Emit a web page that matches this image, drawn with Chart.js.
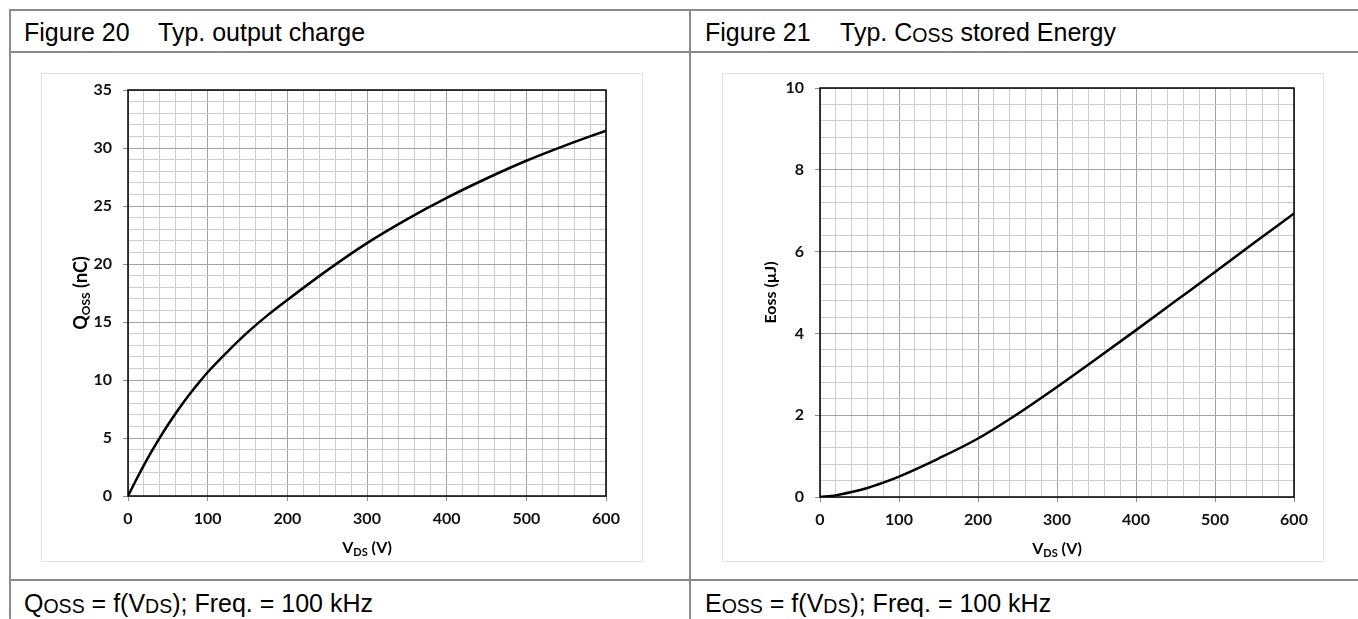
<!DOCTYPE html>
<html>
<head>
<meta charset="utf-8">
<script src="https://cdn.jsdelivr.net/npm/chart.js@4.4.1/dist/chart.umd.min.js"></script>
<style>
  body { margin: 0; width: 1358px; height: 619px; overflow: hidden; position: relative; background: #fff;
         font-family: "Liberation Sans", Arial, sans-serif; color: #000; }
  .rule { position: absolute; background: #8a8a8a; }
  .txt { position: absolute; font-size: 25px; line-height: 1; white-space: nowrap; }
  .sm { font-size: 0.78em; position: relative; top: 1px; }
  .frame { position: absolute; border: 1px solid #e2e2e2; box-sizing: border-box; }
  canvas { position: absolute; display: block; }
</style>
</head>
<body>
  <!-- table rules -->
  <div class="rule" style="left:9px; top:9px; width:1349px; height:2px"></div>
  <div class="rule" style="left:9px; top:51px; width:1349px; height:2px"></div>
  <div class="rule" style="left:9px; top:579px; width:1349px; height:2px"></div>
  <div class="rule" style="left:9px; top:9px; width:2px; height:610px"></div>
  <div class="rule" style="left:689px; top:9px; width:2px; height:610px"></div>

  <div class="txt" style="left:24px; top:20px">Figure 20</div>
  <div class="txt" style="left:158px; top:20px">Typ. output charge</div>
  <div class="txt" style="left:705px; top:20px">Figure 21</div>
  <div class="txt" style="left:840px; top:20px">Typ. C<span class="sm">OSS</span> stored Energy</div>

  <div class="txt" style="left:24px; top:591px">Q<span class="sm">OSS</span> = f(V<span class="sm">DS</span>); Freq. = 100 kHz</div>
  <div class="txt" style="left:705px; top:591px">E<span class="sm">OSS</span> = f(V<span class="sm">DS</span>); Freq. = 100 kHz</div>

  <div class="frame" style="left:41px; top:73px; width:602px; height:489px"></div>
  <div class="frame" style="left:722px; top:73px; width:602px; height:489px"></div>
  <canvas id="qoss" width="600" height="487" style="left:42px; top:74px"></canvas>
  <canvas id="eoss" width="600" height="487" style="left:723px; top:74px"></canvas>

<script>
// Output charge vs drain-source voltage
const vdsQ = [0, 10, 20, 30, 40, 50, 60, 70, 80, 90, 100, 125, 150, 175, 200, 250, 300, 350, 400, 450, 500, 550, 600];
const qoss = [0, 1.36, 2.66, 3.88, 5.04, 6.12, 7.14, 8.1, 9.0, 9.86, 10.67, 12.45, 14.1, 15.57, 16.9,
              19.45, 21.8, 23.85, 25.7, 27.37, 28.9, 30.25, 31.5];

// Coss stored energy vs drain-source voltage
const vdsE = [0, 20, 40, 60, 80, 100, 150, 200, 250, 300, 350, 400, 450, 500, 550, 600];
const eoss = [0, 0.04, 0.12, 0.22, 0.35, 0.5, 0.94, 1.43, 2.03, 2.69, 3.38, 4.08, 4.79, 5.5, 6.22, 6.93];

// labelled (major) ticks
const vdsLabels = [0, 100, 200, 300, 400, 500, 600];
const qossLabels = [0, 5, 10, 15, 20, 25, 30, 35];
const eossLabels = [0, 2, 4, 6, 8, 10];

const isMajor = (list, v) => list.some(m => Math.abs(m - v) < 1e-6);

function drawRuns(ctx, runs, cx, cy, angle) {
  ctx.save();
  ctx.translate(cx, cy);
  ctx.rotate(angle);
  let total = 0;
  for (const r of runs) {
    ctx.font = `bold ${r.size}px Lato, "Open Sans", sans-serif`;
    r.w = ctx.measureText(r.t).width;
    total += r.w;
  }
  let x = -total / 2;
  ctx.fillStyle = '#000';
  ctx.textBaseline = 'alphabetic';
  for (const r of runs) {
    ctx.font = `bold ${r.size}px Lato, "Open Sans", sans-serif`;
    ctx.fillText(r.t, x, r.dy || 0);
    x += r.w;
  }
  ctx.restore();
}

// black box round the plot area plus the axis titles with subscripts
const plotFrame = {
  id: 'plotFrame',
  beforeDatasetsDraw(chart) {
    const { ctx, chartArea: a } = chart;
    ctx.save();
    ctx.strokeStyle = '#000';
    ctx.lineWidth = 1.5;
    ctx.strokeRect(a.left, a.top, a.right - a.left, a.bottom - a.top);
    ctx.restore();
  },
  afterDraw(chart, args, opts) {
    const { ctx, chartArea: a } = chart;
    drawRuns(ctx, opts.xTitle, (a.left + a.right) / 2, a.bottom + opts.xGap, 0);
    drawRuns(ctx, opts.yTitle, a.left - opts.yGap, (a.top + a.bottom) / 2, -Math.PI / 2);
  }
};

function makeChart(id, xs, ys, yMax, yStep, yLabels, box, yTitle) {
  const tickFont = { family: 'Lato, "Open Sans", sans-serif', size: 16, weight: 'bold' };
  return new Chart(document.getElementById(id), {
    type: 'scatter',
    data: {
      datasets: [{
        data: xs.map((x, i) => ({ x: x, y: ys[i] })),
        showLine: true,
        borderColor: '#000',
        borderWidth: 2.5,
        pointRadius: 0,
        cubicInterpolationMode: 'monotone'
      }]
    },
    options: {
      responsive: false,
      devicePixelRatio: 1,
      animation: false,
      layout: { padding: { top: box.top, right: box.right, left: 0, bottom: 0 } },
      plugins: {
        legend: { display: false },
        tooltip: { enabled: false },
        plotFrame: {
          xTitle: [{ t: 'V', size: 16 }, { t: 'DS', size: 11, dy: 3 }, { t: ' (V)', size: 16 }],
          yTitle: yTitle,
          xGap: 57,
          yGap: box.yGap
        }
      },
      scales: {
        x: {
          type: 'linear',
          min: 0, max: 600,
          afterFit: s => { s.height = box.bottom; s.paddingLeft = 0; s.paddingRight = 0; },
          border: { display: false },
          grid: {
            color: c => isMajor(vdsLabels, c.tick.value) ? '#a3a3a3' : '#cdcdcd',
            tickColor: c => isMajor(vdsLabels, c.tick.value) ? '#8c8c8c' : 'rgba(0,0,0,0)',
            tickLength: 5
          },
          ticks: {
            stepSize: 20,
            autoSkip: false,
            maxRotation: 0,
            padding: 8,
            color: '#111',
            font: tickFont,
            callback: v => isMajor(vdsLabels, v) ? String(v) : ''
          }
        },
        y: {
          min: 0, max: yMax,
          afterFit: s => { s.width = box.left; s.paddingTop = 0; s.paddingBottom = 0; },
          border: { display: false },
          grid: {
            color: c => isMajor(yLabels, c.tick.value) ? '#a3a3a3' : '#cdcdcd',
            tickColor: c => isMajor(yLabels, c.tick.value) ? '#8c8c8c' : 'rgba(0,0,0,0)',
            tickLength: 5
          },
          ticks: {
            stepSize: yStep,
            autoSkip: false,
            padding: 11,
            color: '#111',
            font: tickFont,
            callback: v => isMajor(yLabels, v) ? String(v) : ''
          }
        }
      }
    },
    plugins: [plotFrame]
  });
}

makeChart('qoss', vdsQ, qoss, 35, 1, qossLabels,
  { left: 86, top: 16, right: 36, bottom: 65, yGap: 41 },
  [{ t: 'Q', size: 18 }, { t: 'OSS', size: 12, dy: 3 }, { t: ' (nC)', size: 18 }]);

makeChart('eoss', vdsE, eoss, 10, 0.4, eossLabels,
  { left: 97, top: 14, right: 29, bottom: 64, yGap: 44 },
  [{ t: 'Eoss (\u00b5J)', size: 16 }]);
</script>
</body>
</html>
